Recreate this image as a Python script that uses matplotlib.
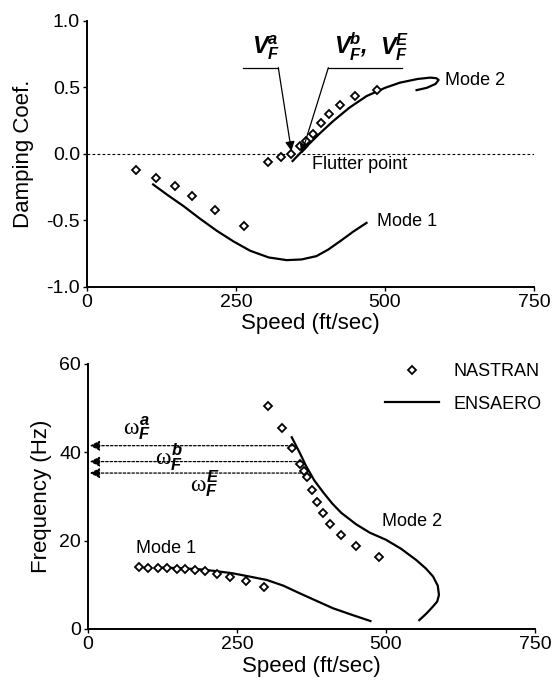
import numpy as np
import matplotlib
matplotlib.use("Agg")
import matplotlib.pyplot as plt

plt.rcParams['font.family'] = ['Liberation Sans', 'DejaVu Sans']
plt.rcParams['mathtext.fontset'] = 'custom'
plt.rcParams['mathtext.rm'] = 'Liberation Sans'
plt.rcParams['mathtext.it'] = 'Liberation Serif'
plt.rcParams['mathtext.bf'] = 'Liberation Sans:bold'

# damping, NASTRAN (diamonds)
damp_nas_x = [82, 116, 147, 177, 215, 263, 303, 325, 343, 357, 368, 380, 393, 406, 424, 449, 486]
damp_nas_y = [-0.125, -0.18, -0.245, -0.318, -0.42, -0.54, -0.06, -0.027, 0.0, 0.055,
              0.095, 0.15, 0.233, 0.295, 0.365, 0.437, 0.482]
# damping, ENSAERO
damp_m1_x = [111, 135, 162, 190, 218, 246, 274, 305, 335, 360, 385, 405, 425, 447, 469]
damp_m1_y = [-0.231, -0.31, -0.394, -0.49, -0.58, -0.66, -0.73, -0.78, -0.80, -0.795,
             -0.77, -0.72, -0.657, -0.585, -0.52]
damp_m2_x = [345, 369, 390, 413, 440, 469, 500, 525, 555, 576, 586, 590, 585, 570, 553]
damp_m2_y = [-0.055, 0.057, 0.15, 0.245, 0.345, 0.433, 0.495, 0.534, 0.562, 0.572,
             0.568, 0.555, 0.525, 0.495, 0.478]

# frequency, NASTRAN
freq_nas1_x = [85, 100, 117, 133, 149, 163, 179, 196, 216, 239, 265, 296]
freq_nas1_y = [14.0, 13.9, 13.8, 13.7, 13.6, 13.5, 13.3, 13.1, 12.5, 11.7, 10.9, 9.6]
freq_nas2_x = [302, 325, 342, 356, 362, 367, 376, 385, 395, 406, 424, 450, 488]
freq_nas2_y = [50.5, 45.4, 41.0, 37.3, 35.8, 34.3, 31.5, 28.8, 26.3, 23.8, 21.2, 18.7, 16.2]
# frequency, ENSAERO
freq_m1_x = [120, 150, 188, 215, 243, 270, 300, 328, 355, 383, 411, 443, 474]
freq_m1_y = [13.9, 13.8, 13.5, 13.1, 12.6, 11.9, 11.1, 9.8, 8.1, 6.4, 4.7, 3.2, 1.8]
freq_m2_x = [342, 355, 366, 380, 395, 410, 425, 450, 473, 500, 525, 551, 567, 579, 587,
             589, 586, 579, 568, 556]
freq_m2_y = [43.4, 40.0, 36.9, 33.6, 30.9, 28.4, 26.3, 23.7, 21.8, 20.2, 18.2, 15.6, 13.7,
             11.9, 9.8, 7.7, 6.2, 5.1, 3.5, 2.0]

# flutter frequencies (a, b, E) and where their dotted lines start
flut_freq = [41.5, 37.9, 35.3]
flut_freq_x = [343, 357, 357]
flut_freq_lbl = [r'$\omega_{\mathregular{F}}^{\mathregular{a}}$',
                 r'$\omega_{\mathregular{F}}^{\mathregular{b}}$',
                 r'$\omega_{\mathregular{F}}^{\mathregular{E}}$']

mk = dict(marker='D', ms=4.2, mfc='white', mec='black', mew=1.3, ls='none')
ln = dict(color='black', lw=1.6)
tfs = 14
lfs = 16
afs = 13

def style(ax):
    for s in ['top', 'right']:
        ax.spines[s].set_visible(False)
    for s in ['left', 'bottom']:
        ax.spines[s].set_linewidth(1.4)
    ax.tick_params(direction='out', length=3, width=1, labelsize=tfs, pad=2)
    ax.set_xlim(0, 750)
    ax.set_xticks([0, 250, 500, 750])

fig = plt.figure(figsize=(5.53, 6.83), dpi=100)

# ---- damping
ax = fig.add_axes([0.1573, 0.5802, 0.8083, 0.3895])
style(ax)
ax.set_ylim(-1.0, 1.0)
ax.set_yticks([-1.0, -0.5, 0.0, 0.5, 1.0])
ax.set_yticklabels(['-1.0', '-0.5', '0.0', '0.5', '1.0'])
ax.plot([0, 750], [0, 0], color='black', lw=0.8, ls=(0, (2.5, 2)))
ax.plot(damp_m1_x, damp_m1_y, **ln)
ax.plot(damp_m2_x, damp_m2_y, **ln)
ax.plot(damp_nas_x, damp_nas_y, **mk)
ax.text(486, -0.51, 'Mode 1', fontsize=afs, va='center', ha='left')
ax.text(600, 0.55, 'Mode 2', fontsize=afs, va='center', ha='left')
ax.text(377, -0.08, 'Flutter point', fontsize=afs, va='center', ha='left')
# leaders
ax.plot([262, 321], [0.647, 0.647], color='black', lw=0.9)
ax.annotate('', xy=(343, 0.02), xytext=(321, 0.647),
            arrowprops=dict(arrowstyle='-|>', color='black', lw=0.9,
                            mutation_scale=14, shrinkA=0, shrinkB=0))
ax.plot([405, 528], [0.647, 0.647], color='black', lw=0.9)
ax.annotate('', xy=(360, 0.0), xytext=(405, 0.647),
            arrowprops=dict(arrowstyle='-|>', color='black', lw=0.9,
                            mutation_scale=14, shrinkA=0, shrinkB=0))
vkw = dict(fontsize=17, fontweight='bold', fontstyle='italic', ha='center', va='center')
ax.text(300, 0.8, r'$\mathregular{V_F^a}$', **vkw)
ax.text(442, 0.8, r'$\mathregular{V_F^b}$,', **vkw)
ax.text(517, 0.8, r'$\mathregular{V_F^E}$', **vkw)
ax.set_xlabel('Speed (ft/sec)', fontsize=lfs, labelpad=2)
ax.set_ylabel('Damping Coef.', fontsize=lfs, labelpad=9)

# ---- frequency
ax = fig.add_axes([0.159, 0.0791, 0.8083, 0.388])
style(ax)
ax.set_ylim(0, 60)
ax.set_yticks([0, 20, 40, 60])
ax.plot(freq_m1_x, freq_m1_y, **ln)
ax.plot(freq_m2_x, freq_m2_y, label='ENSAERO', **ln)
ax.plot(freq_nas1_x, freq_nas1_y, label='NASTRAN', **mk)
ax.plot(freq_nas2_x, freq_nas2_y, **mk)
for yv, xv in zip(flut_freq, flut_freq_x):
    ax.annotate('', xy=(3, yv), xytext=(xv, yv),
                arrowprops=dict(arrowstyle='-|>', color='black', lw=0.9,
                                ls=(0, (2, 1.5)), mutation_scale=15,
                                shrinkA=0, shrinkB=0))
lbl_pos = [(82, 45.6), (137, 38.8), (196, 33.0)]
for (px, py), t in zip(lbl_pos, flut_freq_lbl):
    ax.text(px, py, t, fontsize=17, fontweight='bold', fontstyle='italic',
            ha='center', va='center')
ax.text(80, 18.3, 'Mode 1', fontsize=afs, va='center', ha='left')
ax.text(493, 24.3, 'Mode 2', fontsize=afs, va='center', ha='left')
h, l = ax.get_legend_handles_labels()
ax.legend(h[::-1], l[::-1], loc='upper left', bbox_to_anchor=(0.696, 0.468),
          bbox_transform=fig.transFigure, frameon=False, fontsize=afs,
          handlelength=3.0, handletextpad=0.8, labelspacing=0.85, borderpad=0,
          borderaxespad=0)
ax.set_xlabel('Speed (ft/sec)', fontsize=lfs, labelpad=2)
ax.set_ylabel('Frequency (Hz)', fontsize=lfs, labelpad=5)

plt.savefig('out.png', dpi=100)
